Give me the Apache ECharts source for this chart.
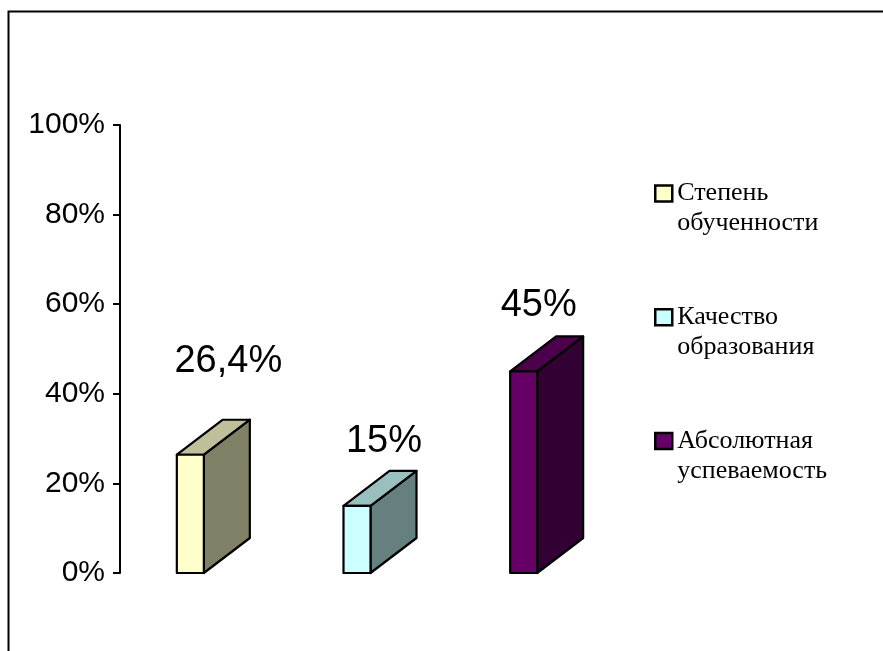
<!DOCTYPE html>
<html>
<head>
<meta charset="utf-8">
<script src="https://cdn.jsdelivr.net/npm/echarts@6/dist/echarts.min.js"></script>
<style>html,body{margin:0;padding:0;background:#fff;}#c{width:883px;height:651px;}</style>
</head>
<body>
<div id="c"></div>
<script>
var categories = ['Степень обученности', 'Качество образования', 'Абсолютная успеваемость'];
var seriesNames = ['Степень\nобученности', 'Качество\nобразования', 'Абсолютная\nуспеваемость'];
var values = [26.4, 15, 45];
var valueLabels = ['26,4%', '15%', '45%'];
var yTicks = [0, 20, 40, 60, 80, 100];

var frontColors = ['#FFFFCC', '#CCFFFF', '#660066'];
var topColors = ['#BFBF99', '#99BFBF', '#4C004C'];
var sideColors = ['#808066', '#668080', '#330033'];
var labelShift = [[38, 58], [27, 29], [15, 31]];

var DX = 46, DY = 35, HALF = 13.5;

function makeRender(i) {
  return function (params, api) {
    var top = api.coord([api.value(0), api.value(1)]);
    var base = api.coord([api.value(0), 0]);
    var x0 = top[0] - HALF, x1 = top[0] + HALF, yt = top[1], yb = base[1];
    var st = {stroke: '#000', lineWidth: 2.2, lineJoin: 'round'};
    return {
      type: 'group',
      children: [
        {type: 'polygon', shape: {points: [[x1, yt], [x1 + DX, yt - DY], [x1 + DX, yb - DY], [x1, yb]]},
          style: Object.assign({fill: sideColors[i]}, st)},
        {type: 'polygon', shape: {points: [[x0, yt], [x1, yt], [x1 + DX, yt - DY], [x0 + DX, yt - DY]]},
          style: Object.assign({fill: topColors[i]}, st)},
        {type: 'rect', shape: {x: x0, y: yt, width: x1 - x0, height: yb - yt},
          style: Object.assign({fill: frontColors[i]}, st)},
        {type: 'text', x: top[0] + labelShift[i][0], y: yt - DY - labelShift[i][1],
          style: {text: valueLabels[i], fill: '#000', fontSize: 38,
            fontFamily: 'Liberation Sans, Arial, sans-serif', align: 'center', verticalAlign: 'middle'}}
      ]
    };
  };
}

var series = categories.map(function (c, i) {
  return {
    type: 'custom',
    name: seriesNames[i],
    renderItem: makeRender(i),
    itemStyle: {color: frontColors[i]},
    data: [[i, values[i]]],
    clip: false
  };
});

var chart = echarts.init(document.getElementById('c'), null, {renderer: 'canvas'});
chart.setOption({
  animation: false,
  backgroundColor: '#fff',
  grid: {left: 107, top: 125, width: 500, height: 448, containLabel: false},
  xAxis: {type: 'category', data: categories, show: false},
  yAxis: {
    type: 'value', min: yTicks[0], max: yTicks[yTicks.length - 1], interval: 20,
    offset: -13,
    axisLine: {show: true, lineStyle: {color: '#000', width: 2}},
    axisTick: {show: true, length: 7, lineStyle: {color: '#000', width: 2}},
    splitLine: {show: false},
    axisLabel: {formatter: '{value}%', color: '#000', fontSize: 30, margin: 15,
      fontFamily: 'Liberation Sans, Arial, sans-serif'}
  },
  legend: {
    orient: 'vertical', left: 654, top: 148.5, padding: 0,
    itemWidth: 17, itemHeight: 16, itemGap: 33.75,
    icon: 'rect',
    itemStyle: {borderColor: '#000', borderWidth: 2.5},
    formatter: function (name) { return '\n' + name; },
    textStyle: {fontSize: 26, color: '#000', lineHeight: 30,
      fontFamily: 'Liberation Serif, Times New Roman, serif'},
    data: seriesNames
  },
  graphic: [{
    type: 'rect', left: 6, top: 9, shape: {width: 900, height: 700},
    style: {fill: 'none', stroke: '#000', lineWidth: 2}, silent: true
  }],
  series: series
});
</script>
</body>
</html>
